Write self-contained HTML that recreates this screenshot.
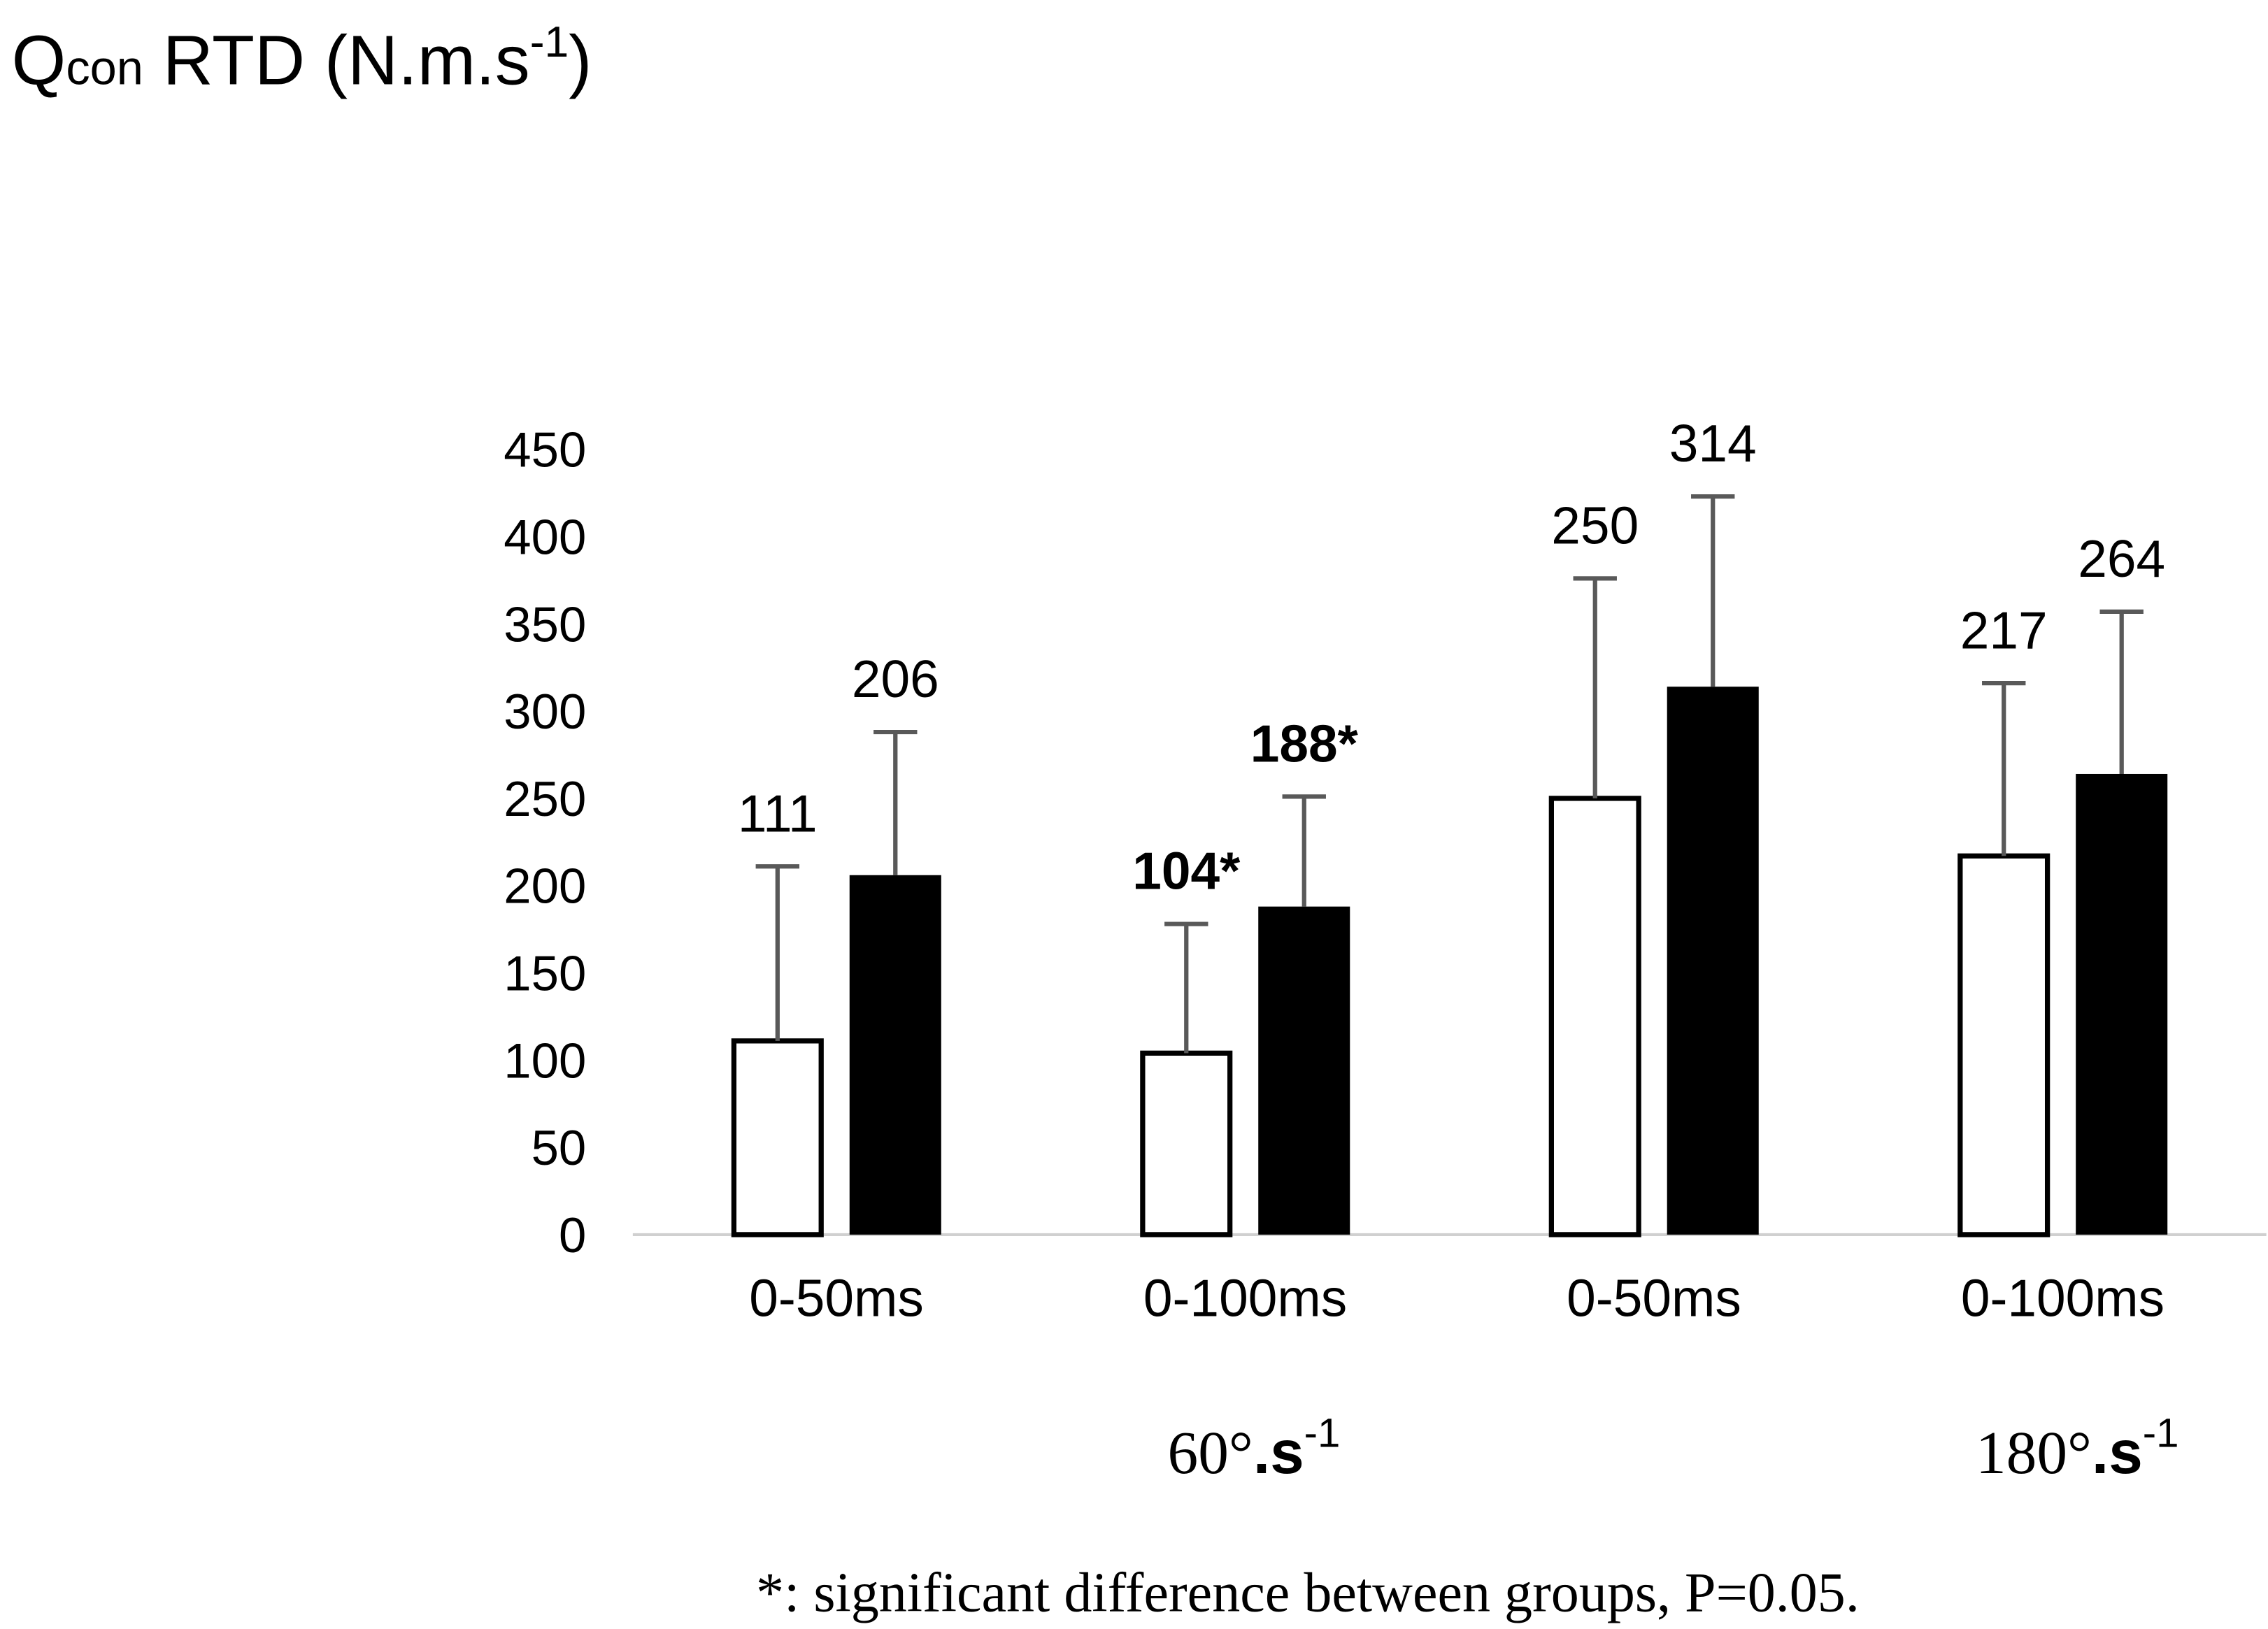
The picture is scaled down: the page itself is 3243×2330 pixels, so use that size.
<!DOCTYPE html>
<html><head><meta charset="utf-8"><style>
html,body{margin:0;padding:0;background:#fff;}
svg{display:block;}
</style></head><body>
<svg id="chart" width="3243" height="2330" viewBox="0 0 1559.1 1120.2" xmlns="http://www.w3.org/2000/svg">
<text x="8" y="58" font-family="Liberation Sans, sans-serif" font-size="48">Q<tspan font-size="33">con</tspan> RTD (N.m.s<tspan font-size="30" dy="-19">-1</tspan><tspan dy="19">)</tspan></text>
<g id="yticks"></g>
<line x1="435" y1="849" x2="1558" y2="849" stroke="#d0d0d0" stroke-width="2"/>
<g id="bars"></g>
<g id="xlabels"></g>
<text x="862" y="1013" text-anchor="middle" font-size="42"><tspan font-family="Liberation Serif, serif">60°</tspan><tspan font-family="Liberation Sans, sans-serif" font-weight="bold">.s</tspan><tspan font-family="Liberation Sans, sans-serif" font-size="28" dy="-18">-1</tspan></text>
<text x="1428" y="1013" text-anchor="middle" font-size="42"><tspan font-family="Liberation Serif, serif">180°</tspan><tspan font-family="Liberation Sans, sans-serif" font-weight="bold">.s</tspan><tspan font-family="Liberation Sans, sans-serif" font-size="28" dy="-18">-1</tspan></text>
<text x="899" y="1108" text-anchor="middle" font-family="Liberation Serif, serif" font-size="38.5">*: significant difference between groups, P=0.05.</text>
</svg>
<script>
const categories = ["0-50ms","0-100ms","0-50ms","0-100ms"];
const whiteValues = [111,104,250,217];
const blackValues = [206,188,314,264];
const whiteErr = [100,74,126,99];
const blackErr = [82,63,109,93];
const whiteLabels = ["111","104*","250","217"];
const blackLabels = ["206","188*","314","264"];
const labelBold = [false,true,false,false];
const yTicks = [0,50,100,150,200,250,300,350,400,450];

const NS = "http://www.w3.org/2000/svg";
function y(v){ return 849 - v*1.2; }
function catCenter(i){ return 575 + i*281; }
function mk(tag, attrs, parent){ const e=document.createElementNS(NS,tag); for(const k in attrs) e.setAttribute(k,attrs[k]); parent.appendChild(e); return e; }

const yt = document.getElementById('yticks');
yTicks.forEach(t=>{
  const e = mk('text',{x:403,y:y(t)+12,'text-anchor':'end','font-family':'Liberation Sans, sans-serif','font-size':34},yt);
  
  
  e.textContent = t;
});

const bg = document.getElementById('bars');
const xl = document.getElementById('xlabels');
categories.forEach((c,i)=>{
  const cx = catCenter(i);
  const bw = 63;
  const wx = cx - 72, bx = cx + 9;
  const w = mk('rect',{x:wx+1.5,y:y(whiteValues[i]),width:bw-3,height:y(0)-y(whiteValues[i]),fill:'#fff',stroke:'#000','stroke-width':3.5},bg);
  
  
  const b = mk('rect',{x:bx,y:y(blackValues[i]),width:bw,height:y(0)-y(blackValues[i]),fill:'#000'},bg);
  
  
  [[wx+bw/2,whiteValues[i],whiteErr[i],whiteLabels[i]],[bx+bw/2,blackValues[i],blackErr[i],blackLabels[i]]].forEach(([mx,v,er,lab])=>{
    const top = y(v+er);
    const g = mk('g',{stroke:'#595959','stroke-width':3},bg);
    
    
    mk('line',{x1:mx,y1:y(v),x2:mx,y2:top},g);
    mk('line',{x1:mx-15,y1:top,x2:mx+15,y2:top},g);
    const t = mk('text',{x:mx,y:top-24,'text-anchor':'middle','font-family':'Liberation Sans, sans-serif','font-size':36,'font-weight':labelBold[i]?'bold':'normal'},bg);
    
    
    t.textContent = lab;
  });
  const xt = mk('text',{x:cx,y:905,'text-anchor':'middle','font-family':'Liberation Sans, sans-serif','font-size':36},xl);
  
  
  xt.textContent = c;
});
</script>
</body></html>
